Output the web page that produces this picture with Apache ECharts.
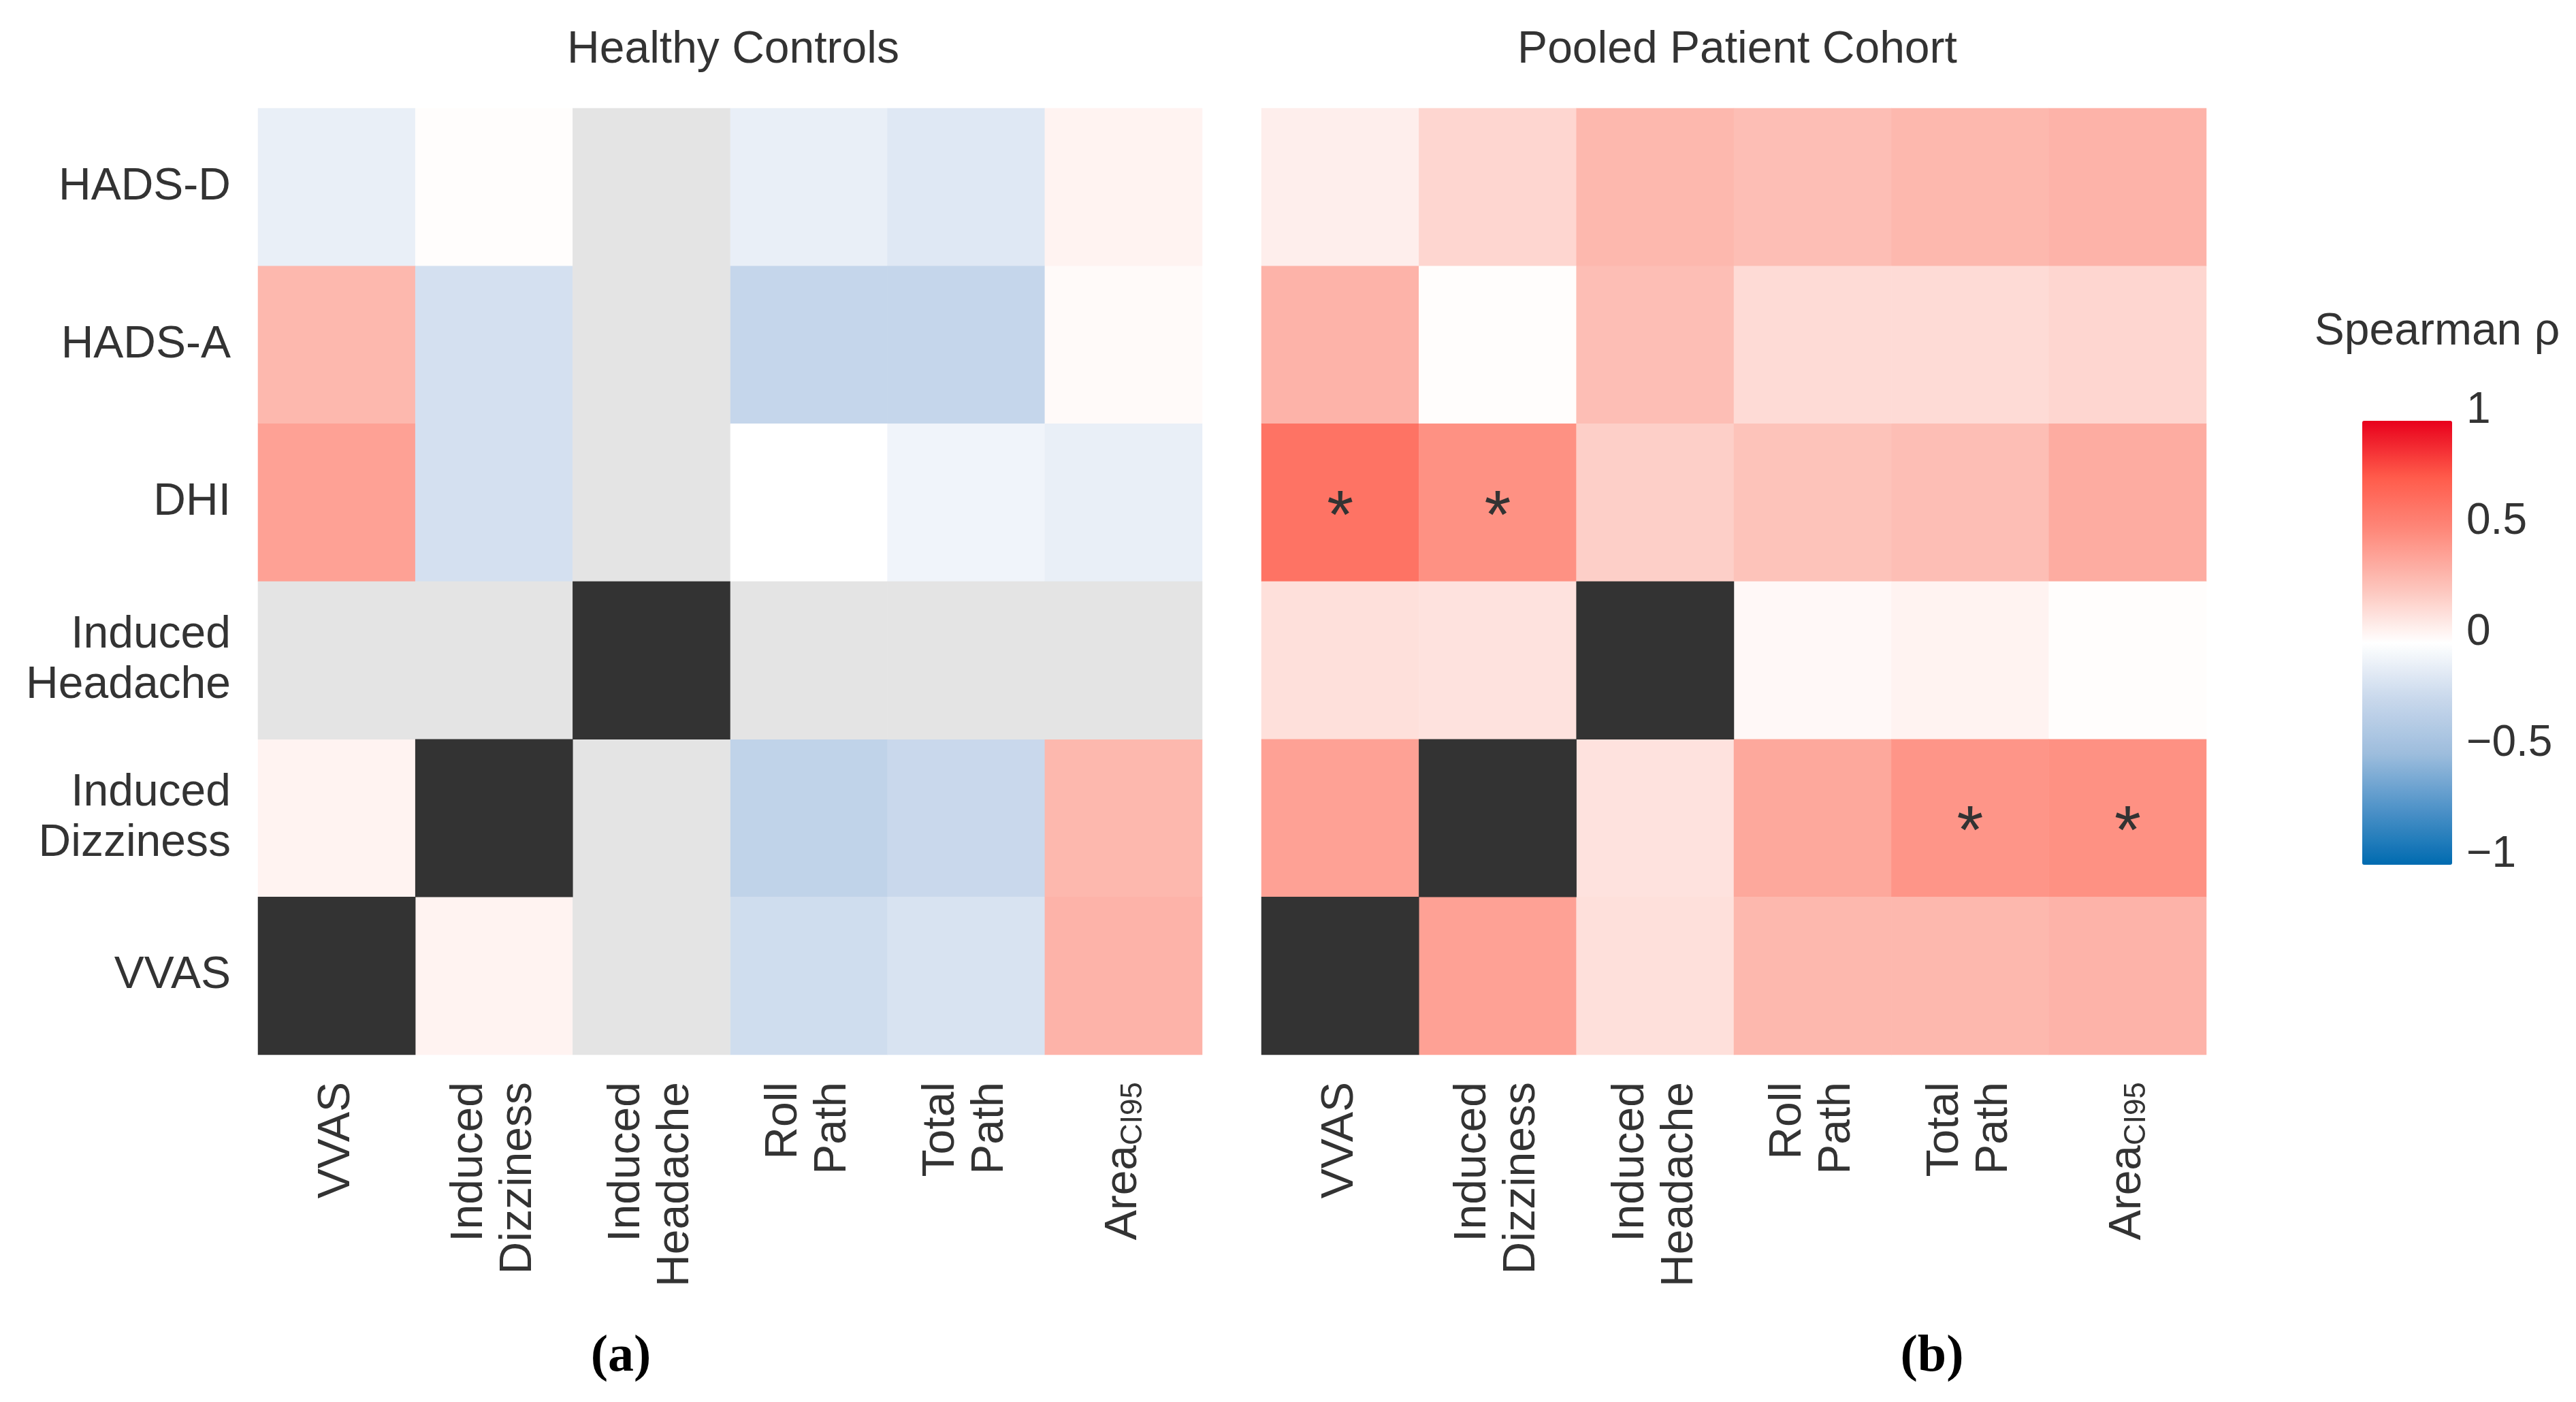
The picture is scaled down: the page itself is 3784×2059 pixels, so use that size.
<!DOCTYPE html>
<html>
<head>
<meta charset="utf-8">
<script src="https://cdn.jsdelivr.net/npm/echarts@6/dist/echarts.min.js"></script>
<style>html,body{margin:0;background:#fff}#c{width:3784px;height:2059px}</style>
</head>
<body>
<div id="c"></div>
<script>
const rows = ['HADS-D', 'HADS-A', 'DHI', 'Induced\nHeadache', 'Induced\nDizziness', 'VVAS']
const cols = ['VVAS', 'Induced\nDizziness', 'Induced\nHeadache', 'Roll\nPath', 'Total\nPath', 'Area']
// null = not available (gray), 'D' = same variable (dark)
const healthy = [
  [-0.1, 0.01, null, -0.1, -0.15, 0.05],
  [0.3, -0.2, null, -0.27, -0.27, 0.02],
  [0.4, -0.2, null, 0, -0.07, -0.1],
  [null, null, 'D', null, null, null],
  [0.05, 'D', null, -0.3, -0.25, 0.3],
  ['D', 0.05, null, -0.22, -0.18, 0.32],
]
const pooled = [
  [0.07, 0.17, 0.3, 0.27, 0.3, 0.32],
  [0.32, 0.01, 0.27, 0.15, 0.15, 0.17],
  [0.62, 0.47, 0.2, 0.25, 0.27, 0.35],
  [0.13, 0.12, 'D', 0.03, 0.05, 0.01],
  [0.4, 'D', 0.12, 0.37, 0.45, 0.47],
  ['D', 0.4, 0.13, 0.3, 0.3, 0.32],
]
const pooledSig = [
  [0, 0, 0, 0, 0, 0],
  [0, 0, 0, 0, 0, 0],
  [1, 1, 0, 0, 0, 0],
  [0, 0, 0, 0, 0, 0],
  [0, 0, 0, 0, 1, 1],
  [0, 0, 0, 0, 0, 0],
]
const barTicks = [-1, -0.5, 0, 0.5, 1]

const FONT = 'Liberation Sans'
function split(mat, sig) {
  const vals = [], gray = [], dark = []
  mat.forEach((r, i) => r.forEach((v, j) => {
    if (v === null) gray.push([j, i, 0])
    else if (v === 'D') dark.push([j, i, 0])
    else vals.push([j, i, v, sig ? sig[i][j] : 0])
  }))
  return { vals, gray, dark }
}
const L = split(healthy), R = split(pooled, pooledSig)

const colAxis = (gi) => ({
  type: 'category', data: cols, gridIndex: gi, position: 'bottom',
  axisLine: { show: false }, axisTick: { show: false }, splitLine: { show: false },
  axisLabel: {
    rotate: 90, fontSize: 66, fontFamily: FONT, color: '#333', margin: 40, lineHeight: 72,
    formatter: v => v === 'Area' ? '{a|Area}{s|CI95}' : v,
    rich: { a: { fontSize: 66, fontFamily: FONT, color: '#333' }, s: { fontSize: 44, fontFamily: FONT, color: '#333', verticalAlign: 'bottom', padding: [22, 0, 0, 0] } }
  }
})
const rowAxis = (gi, show) => ({
  type: 'category', data: rows, gridIndex: gi, inverse: true,
  axisLine: { show: false }, axisTick: { show: false }, splitLine: { show: false },
  axisLabel: { show: show, fontSize: 66, fontFamily: FONT, color: '#333', margin: 40, lineHeight: 74, align: 'right' }
})
const heat = (gi, data, color, label) => ({
  type: 'heatmap', xAxisIndex: gi, yAxisIndex: gi, data: data,
  itemStyle: color ? { color: color } : {},
  label: label ? { show: true, fontSize: 100, color: '#333', offset: [0, 24], formatter: p => p.data[3] ? '*' : '' } : { show: false },
  emphasis: { disabled: true }
})

const chart = echarts.init(document.getElementById('c'))
chart.setOption({
  backgroundColor: '#fff',
  animation: false,
  title: [
    { text: 'Healthy Controls', left: 1072, top: 36, textAlign: 'center', textStyle: { fontSize: 66, fontWeight: 'normal', fontFamily: FONT, color: '#333' } },
    { text: 'Pooled Patient Cohort', left: 2547, top: 36, textAlign: 'center', textStyle: { fontSize: 66, fontWeight: 'normal', fontFamily: FONT, color: '#333' } },
    { text: 'Spearman ρ', left: 3575, top: 450, textAlign: 'center', textStyle: { fontSize: 66, fontWeight: 'normal', fontFamily: FONT, color: '#333' } },
    { text: '{p|(}{b|a}{p|)}', left: 907, top: 1950, textAlign: 'center', textStyle: { rich: { p: { fontSize: 76, fontFamily: 'Liberation Serif', color: '#000' }, b: { fontSize: 76, fontWeight: 'bold', fontFamily: 'Liberation Serif', color: '#000' } } } },
    { text: '{p|(}{b|b}{p|)}', left: 2833, top: 1950, textAlign: 'center', textStyle: { rich: { p: { fontSize: 76, fontFamily: 'Liberation Serif', color: '#000' }, b: { fontSize: 76, fontWeight: 'bold', fontFamily: 'Liberation Serif', color: '#000' } } } },
  ],
  grid: [
    { left: 379, top: 159, width: 1387, height: 1390 },
    { left: 1853, top: 159, width: 1388, height: 1390 },
    { left: 3455, top: 603, width: 132, height: 652 },
  ],
  xAxis: [colAxis(0), colAxis(1), { type: 'value', gridIndex: 2, show: false, min: 0, max: 1 }],
  yAxis: [rowAxis(0, true), rowAxis(1, false), {
    type: 'value', gridIndex: 2, position: 'right', min: -1, max: 1, interval: 0.5,
    axisLine: { show: false }, axisTick: { show: false }, splitLine: { show: false },
    axisLabel: { fontSize: 64, fontFamily: FONT, color: '#333', margin: 36, formatter: v => barTicks.includes(v) ? String(v).replace('-', '−') : '' }
  }],
  visualMap: {
    type: 'continuous', min: -1, max: 1, dimension: 2, seriesIndex: [0, 3], calculable: false, realtime: false,
    left: 3455, top: 603, itemWidth: 132, itemHeight: 652, text: ['', ''], showLabel: false,
    inRange: { color: ['#006bb0', '#4e92c8', '#9dbddd', '#c9d8ec', '#ffffff', '#fdc3ba', '#fe8a7c', '#ff5a4a', '#e8001c'] }
  },
  series: [
    heat(0, L.vals, null, false),
    heat(0, L.gray, '#e4e4e4', false),
    heat(0, L.dark, '#333333', false),
    heat(1, R.vals, null, true),
    heat(1, R.gray, '#e4e4e4', false),
    heat(1, R.dark, '#333333', false),
    { type: 'scatter', xAxisIndex: 2, yAxisIndex: 2, data: [], silent: true },
  ]
})
</script>
</body>
</html>
